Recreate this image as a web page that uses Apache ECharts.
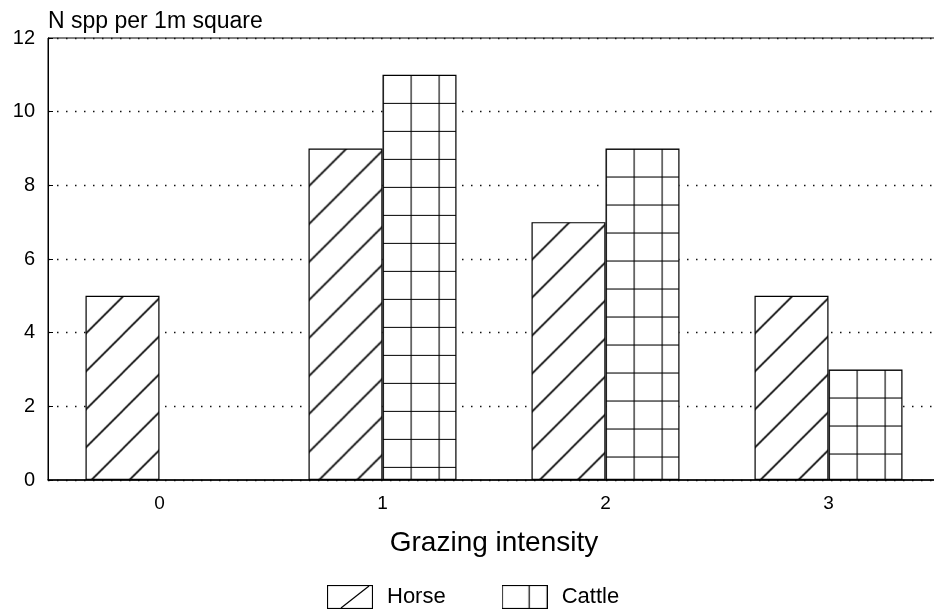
<!DOCTYPE html>
<html>
<head>
<meta charset="utf-8">
<script src="https://cdn.jsdelivr.net/npm/echarts@6/dist/echarts.min.js"></script>
<style>
  html, body { margin: 0; padding: 0; background: #fff; }
  #main { width: 934px; height: 615px; }
</style>
</head>
<body>
<div id="main"></div>
<script>
// data
var categories = ['0', '1', '2', '3'];
var horse = [5, 9, 7, 5];
var cattle = [null, 11, 9, 3];
var yMin = 0, yMax = 12, yStep = 2;

var FONT = 'Liberation Sans';
var BAR_W = 74;

// diagonal hatch tile (horse)
function hatchTile () {
  var s = 38;
  var c = document.createElement('canvas');
  c.width = s; c.height = s;
  var g = c.getContext('2d');
  g.fillStyle = '#fff';
  g.fillRect(0, 0, s, s);
  g.strokeStyle = '#000';
  g.lineWidth = 1.6;
  g.beginPath();
  g.moveTo(-2, s + 2); g.lineTo(s + 2, -2);
  g.moveTo(-3, 3); g.lineTo(3, -3);
  g.moveTo(s - 3, s + 3); g.lineTo(s + 3, s - 3);
  g.stroke();
  return c;
}

// square grid tile (cattle)
function gridTile () {
  var s = 28;
  var c = document.createElement('canvas');
  c.width = s; c.height = s;
  var g = c.getContext('2d');
  g.fillStyle = '#fff';
  g.fillRect(0, 0, s, s);
  g.strokeStyle = '#000';
  g.lineWidth = 1.2;
  g.beginPath();
  g.moveTo(0.5, 0); g.lineTo(0.5, s);
  g.moveTo(0, 0.5); g.lineTo(s, 0.5);
  g.stroke();
  return c;
}

// legend icons
function legendIcon (kind) {
  var w = 46, h = 24;
  var c = document.createElement('canvas');
  c.width = w; c.height = h;
  var g = c.getContext('2d');
  g.fillStyle = '#fff';
  g.fillRect(0, 0, w, h);
  g.strokeStyle = '#000';
  g.lineWidth = 1.2;
  g.strokeRect(0.5, 0.5, w - 1, h - 1);
  g.beginPath();
  if (kind === 'horse') {
    g.moveTo(14, h - 1); g.lineTo(42, 1);
  } else {
    g.moveTo(27.5, 0); g.lineTo(27.5, h);
  }
  g.stroke();
  return 'image://' + c.toDataURL();
}

var hatch = hatchTile();
var gridImg = gridTile();

var chart = echarts.init(document.getElementById('main'), null, { renderer: 'canvas' });

function buildOption (horseData, cattleData) {
  return {
    animation: false,
    backgroundColor: '#fff',
    grid: {
      left: 48, right: -6, top: 38, bottom: 135,
      show: true, borderColor: '#000', borderWidth: 1,
      backgroundColor: 'transparent',
      outerBoundsMode: 'none'
    },
    legend: {
      left: 327, top: 585,
      itemWidth: 46, itemHeight: 24, itemGap: 56,
      padding: 0,
      textStyle: { fontFamily: FONT, fontSize: 22, color: '#000', padding: [0, 0, 0, 9] },
      data: [
        { name: 'Horse', icon: legendIcon('horse') },
        { name: 'Cattle', icon: legendIcon('cattle') }
      ]
    },
    xAxis: {
      type: 'category',
      data: categories,
      name: 'Grazing intensity',
      nameLocation: 'middle',
      nameGap: 49,
      nameTextStyle: { fontFamily: FONT, fontSize: 28, color: '#000' },
      axisLine: { lineStyle: { color: '#000', width: 1.5 } },
      axisTick: { show: false },
      axisLabel: { fontFamily: FONT, fontSize: 19, color: '#000', margin: 14 },
      splitLine: { show: false }
    },
    yAxis: {
      type: 'value',
      min: yMin, max: yMax, interval: yStep,
      name: 'N spp per 1m square',
      nameLocation: 'end',
      nameGap: 5,
      nameTextStyle: { fontFamily: FONT, fontSize: 23, color: '#000', align: 'left' },
      axisLine: { show: true, lineStyle: { color: '#000', width: 1 } },
      axisTick: { show: true, inside: true, length: 5, lineStyle: { color: '#000' } },
      axisLabel: { fontFamily: FONT, fontSize: 20, color: '#000', margin: 13 },
      splitLine: { show: true, lineStyle: { color: '#111', width: 1.3, type: [1.5, 7.5] } }
    },
    series: [
      {
        name: 'Horse', type: 'bar', barWidth: BAR_W, barGap: '0%',
        itemStyle: { color: '#fff', borderColor: '#000', borderWidth: 1.2 },
        data: horseData
      },
      {
        name: 'Cattle', type: 'bar', barWidth: BAR_W, barGap: '0%',
        itemStyle: { color: '#fff', borderColor: '#000', borderWidth: 1.2 },
        data: cattleData
      }
    ]
  };
}

chart.setOption(buildOption(horse, cattle));

// anchor each bar's fill pattern at that bar's top-left corner
function patterned (values, img, side) {
  return values.map(function (v, i) {
    if (v == null) return v;
    var p = chart.convertToPixel({ gridIndex: 0 }, [i, v]);
    var left = side === 'left' ? p[0] - BAR_W : p[0];
    return {
      value: v,
      itemStyle: { color: { image: img, repeat: 'repeat', x: left, y: p[1] } }
    };
  });
}

chart.setOption(buildOption(
  patterned(horse, hatch, 'left'),
  patterned(cattle, gridImg, 'right')
));
</script>
</body>
</html>
